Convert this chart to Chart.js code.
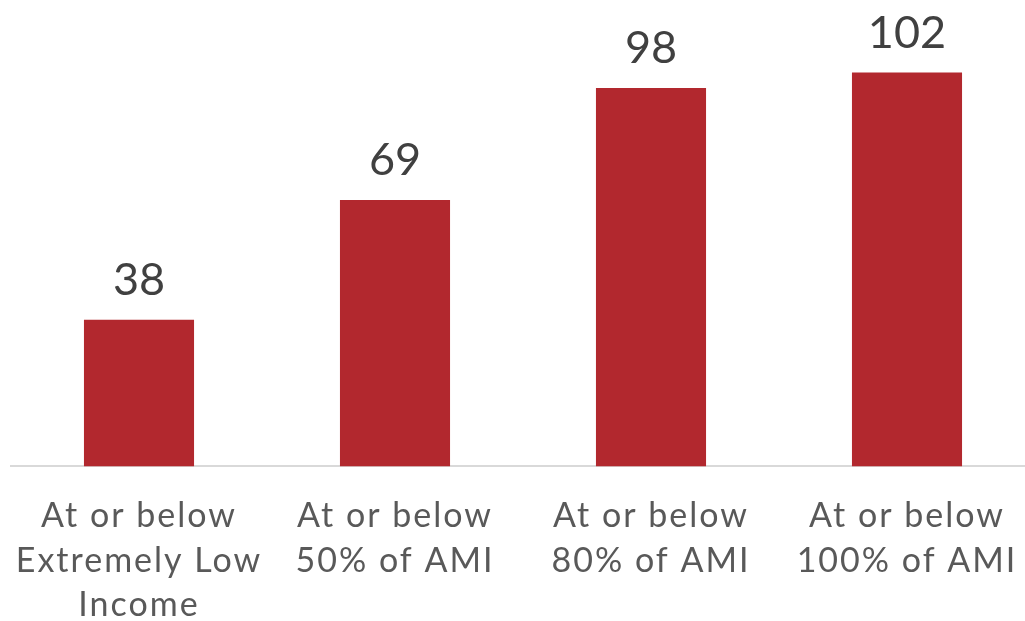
<!DOCTYPE html>
<html>
<head>
<meta charset="utf-8">
<script src="https://cdn.jsdelivr.net/npm/chart.js@4/dist/chart.umd.min.js"></script>
<style>
html,body{margin:0;padding:0;background:#fff;overflow:hidden;}
#wrap{width:1040px;height:647px;position:relative;}
</style>
</head>
<body>
<div id="wrap"><canvas id="c"></canvas></div>
<script>
const categories = [
  ["At or below", "Extremely Low", "Income"],
  ["At or below", "50% of AMI"],
  ["At or below", "80% of AMI"],
  ["At or below", "100% of AMI"]
];
const values = [38, 69, 98, 102];

const spacing = {
  id: 'spacing',
  beforeDraw(chart) { chart.ctx.letterSpacing = '2px'; }
};

const dataLabels = {
  id: 'dataLabels',
  afterDatasetsDraw(chart) {
    const ctx = chart.ctx;
    const meta = chart.getDatasetMeta(0);
    ctx.save();
    ctx.letterSpacing = '0px';
    ctx.font = '45px Lato, "Open Sans", sans-serif';
    ctx.fillStyle = '#404040';
    ctx.textAlign = 'center';
    ctx.textBaseline = 'middle';
    meta.data.forEach((bar, i) => {
      ctx.fillText(String(values[i]), bar.x, bar.y - 39);
    });
    ctx.restore();
  }
};

new Chart(document.getElementById('c'), {
  type: 'bar',
  data: {
    labels: categories,
    datasets: [{
      data: values,
      backgroundColor: '#b2282e',
      borderWidth: 0,
      barPercentage: 0.43,
      categoryPercentage: 1.0
    }]
  },
  options: {
    responsive: true,
    maintainAspectRatio: false,
    animation: false,
    layout: { padding: { left: 11, right: 5, top: 3, bottom: 0 } },
    plugins: { legend: { display: false }, tooltip: { enabled: false } },
    scales: {
      x: {
        grid: { display: false },
        border: { display: true, color: '#d9d9d9', width: 2 },
        ticks: {
          color: '#595959',
          font: { family: 'Lato, "Open Sans", sans-serif', size: 34, lineHeight: 1.3 },
          padding: 20,
          maxRotation: 0,
          autoSkip: false
        }
      },
      y: {
        display: false,
        min: 0,
        max: 120
      }
    }
  },
  plugins: [spacing, dataLabels]
});
</script>
</body>
</html>
